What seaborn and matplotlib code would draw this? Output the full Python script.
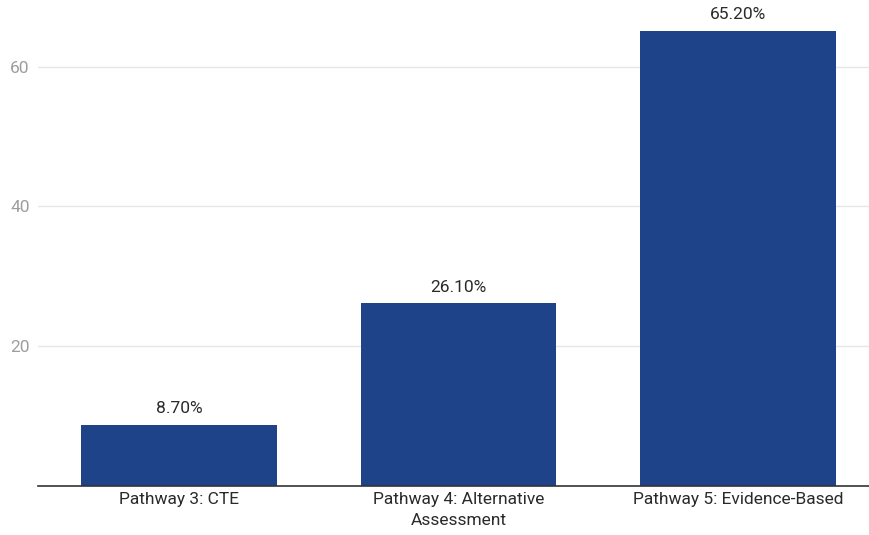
import matplotlib
matplotlib.use("Agg")
import matplotlib.pyplot as plt
import seaborn as sns
import pandas as pd

categories = ["Pathway 3: CTE", "Pathway 4: Alternative\nAssessment", "Pathway 5: Evidence-Based"]
values = [8.7, 26.1, 65.2]
labels = ["8.70%", "26.10%", "65.20%"]
yticks = [20, 40, 60]

sns.set_theme(style="white")
plt.rcParams['font.family'] = ['Roboto', 'DejaVu Sans']

df = pd.DataFrame({"cat": categories, "val": values})

fig = plt.figure(figsize=(8.69, 5.35), dpi=100)
ax = fig.add_axes([38/869, (535-485.5)/535, (869-38)/869, 485.5/535])
sns.barplot(data=df, x="cat", y="val", color="#1e4388", saturation=1, width=0.7,
            linewidth=0, ax=ax)
ax.set_xlim(-0.504, 2.469)
ax.set_ylim(0, 69.6)
ax.set_yticks(yticks)
ax.set_yticklabels([str(t) for t in yticks], color="#9e9e9e", fontsize=12.5)
ax.grid(axis="y", color="#e6e6e6", linewidth=1)
ax.set_axisbelow(True)
for s in ["top", "right", "left"]:
    ax.spines[s].set_visible(False)
ax.spines["bottom"].set_color("#333333")
ax.spines["bottom"].set_linewidth(1.2)
ax.tick_params(axis="y", length=0, pad=6)
ax.tick_params(axis="x", length=0, pad=5, labelsize=12.5, labelcolor="#2a2a2a")
for t in ax.get_xticklabels():
    t.set_linespacing(1.45)
ax.set_xlabel("")
ax.set_ylabel("")
for i, (v, l) in enumerate(zip(values, labels)):
    ax.annotate(l, (i, v), xytext=(0, 6), textcoords="offset points", ha="center", va="bottom",
                fontsize=12.5, color="#2a2a2a")
fig.savefig("out.png", dpi=100)
